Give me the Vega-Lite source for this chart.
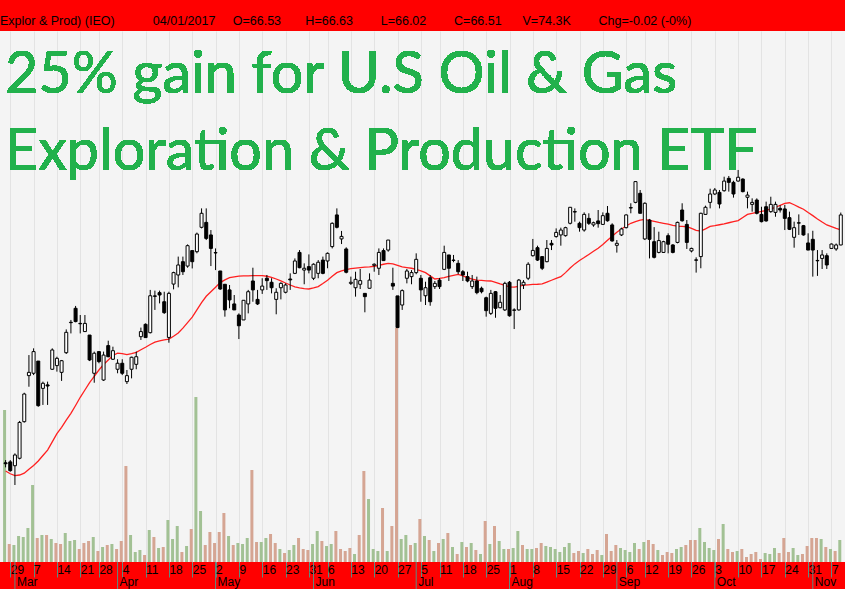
{
  "$schema": "https://vega.github.io/schema/vega-lite/v6.json",
  "width": 845,
  "height": 531,
  "autosize": {"type": "none"},
  "padding": {"left": 0, "right": 0, "top": 31, "bottom": 27},
  "background": "#ff0000",
  "config": {"view": {"fill": "#f4f4f4", "stroke": null}},
  "title": {
    "text": "Explor & Prod) (IEO)\u00a0\u00a0\u00a0\u00a0\u00a0\u00a0\u00a0\u00a0\u00a0\u00a0\u00a004/01/2017\u00a0\u00a0\u00a0\u00a0\u00a0O=66.53\u00a0\u00a0\u00a0\u00a0\u00a0\u00a0\u00a0H=66.63\u00a0\u00a0\u00a0\u00a0\u00a0\u00a0\u00a0\u00a0L=66.02\u00a0\u00a0\u00a0\u00a0\u00a0\u00a0\u00a0\u00a0C=66.51\u00a0\u00a0\u00a0\u00a0\u00a0\u00a0V=74.3K\u00a0\u00a0\u00a0\u00a0\u00a0\u00a0\u00a0\u00a0Chg=-0.02 (-0%)",
    "anchor": "start",
    "frame": "group",
    "orient": "top",
    "offset": -2,
    "baseline": "middle",
    "font": "Liberation Sans",
    "fontSize": 12.5,
    "fontWeight": "normal",
    "color": "#000000"
  },
  "data": {"values": [
    {"i":0,"o":45.45,"h":45.6,"l":45.2,"c":45.4,"v":1520,"dir":"up","ma":45.0},
    {"i":1,"o":45.5,"h":45.6,"l":44.96,"c":45.02,"v":180,"dir":"down","ma":44.85},
    {"i":2,"o":45.29,"h":45.97,"l":44.23,"c":45.88,"v":170,"dir":"up","ma":44.75,"mon":"Mar"},
    {"i":3,"o":45.7,"h":47.75,"l":45.64,"c":47.67,"v":260,"dir":"up","ma":44.78},
    {"i":4,"o":47.71,"h":49.3,"l":47.66,"c":49.23,"v":250,"dir":"up","ma":44.88},
    {"i":5,"o":50.24,"h":51.37,"l":49.63,"c":50.42,"v":340,"dir":"up","ma":45.1},
    {"i":6,"o":50.37,"h":51.74,"l":50.27,"c":51.56,"v":770,"dir":"up","ma":45.3},
    {"i":7,"o":51.04,"h":51.04,"l":48.53,"c":48.59,"v":240,"dir":"down","ma":45.55},
    {"i":8,"o":49.54,"h":49.91,"l":48.63,"c":49.82,"v":270,"dir":"up","ma":45.85},
    {"i":9,"o":49.73,"h":49.91,"l":48.63,"c":49.67,"v":270,"dir":"down","ma":46.15},
    {"i":10,"o":50.59,"h":51.74,"l":50.55,"c":51.65,"v":230,"dir":"up","ma":46.6},
    {"i":11,"o":50.79,"h":51.28,"l":50.46,"c":51.19,"v":190,"dir":"down","ma":47.05},
    {"i":12,"o":50.42,"h":51.1,"l":49.95,"c":51.06,"v":180,"dir":"down","ma":47.4},
    {"i":13,"o":51.5,"h":52.78,"l":51.43,"c":52.62,"v":290,"dir":"up","ma":47.8},
    {"i":14,"o":53.17,"h":53.3,"l":52.56,"c":53.15,"v":210,"dir":"up","ma":48.17},
    {"i":15,"o":53.94,"h":54.07,"l":53.17,"c":53.21,"v":220,"dir":"up","ma":48.6},
    {"i":16,"o":53.11,"h":53.57,"l":52.56,"c":53.09,"v":130,"dir":"down","ma":49.05},
    {"i":17,"o":52.66,"h":53.57,"l":52.66,"c":53.11,"v":190,"dir":"down","ma":49.45},
    {"i":18,"o":52.47,"h":52.47,"l":51.04,"c":51.1,"v":210,"dir":"down","ma":49.85},
    {"i":19,"o":50.37,"h":51.56,"l":49.85,"c":51.47,"v":250,"dir":"up","ma":50.2},
    {"i":20,"o":51.56,"h":51.56,"l":50.92,"c":51.01,"v":110,"dir":"down","ma":50.55},
    {"i":21,"o":50.0,"h":51.56,"l":49.95,"c":51.37,"v":150,"dir":"up","ma":50.85},
    {"i":22,"o":51.89,"h":52.16,"l":51.25,"c":51.28,"v":170,"dir":"down","ma":51.1},
    {"i":23,"o":51.14,"h":51.83,"l":51.1,"c":51.61,"v":180,"dir":"up","ma":51.35},
    {"i":24,"o":50.59,"h":51.14,"l":50.37,"c":50.92,"v":130,"dir":"down","ma":51.48,"mon":"Apr"},
    {"i":25,"o":50.92,"h":51.14,"l":50.27,"c":50.37,"v":210,"dir":"down","ma":51.45},
    {"i":26,"o":49.91,"h":50.55,"l":49.78,"c":50.24,"v":960,"dir":"down","ma":51.4},
    {"i":27,"o":50.59,"h":51.28,"l":50.09,"c":51.25,"v":270,"dir":"up","ma":51.45},
    {"i":28,"o":50.86,"h":51.56,"l":50.59,"c":51.28,"v":100,"dir":"up","ma":51.52},
    {"i":29,"o":52.38,"h":52.88,"l":52.2,"c":52.66,"v":120,"dir":"up","ma":51.66},
    {"i":30,"o":53.06,"h":53.11,"l":52.33,"c":52.33,"v":70,"dir":"down","ma":51.8},
    {"i":31,"o":52.6,"h":54.95,"l":52.56,"c":54.63,"v":320,"dir":"up","ma":51.95},
    {"i":32,"o":54.62,"h":54.91,"l":53.85,"c":54.6,"v":250,"dir":"down","ma":52.08},
    {"i":33,"o":54.8,"h":54.91,"l":54.21,"c":54.67,"v":140,"dir":"up","ma":52.15},
    {"i":34,"o":54.3,"h":54.85,"l":53.63,"c":53.7,"v":150,"dir":"down","ma":52.2},
    {"i":35,"o":52.34,"h":54.85,"l":52.05,"c":54.76,"v":420,"dir":"up","ma":52.25},
    {"i":36,"o":55.27,"h":55.95,"l":54.98,"c":55.9,"v":230,"dir":"up","ma":52.4},
    {"i":37,"o":55.77,"h":56.78,"l":55.09,"c":56.32,"v":360,"dir":"up","ma":52.58},
    {"i":38,"o":56.5,"h":56.78,"l":55.77,"c":55.95,"v":100,"dir":"down","ma":52.85},
    {"i":39,"o":56.26,"h":57.45,"l":56.17,"c":57.38,"v":160,"dir":"up","ma":53.15},
    {"i":40,"o":57.11,"h":57.11,"l":56.13,"c":56.5,"v":330,"dir":"down","ma":53.45},
    {"i":41,"o":57.05,"h":58.1,"l":56.96,"c":58.02,"v":1650,"dir":"up","ma":53.85},
    {"i":42,"o":58.39,"h":59.43,"l":58.33,"c":59.16,"v":510,"dir":"up","ma":54.25},
    {"i":43,"o":58.66,"h":59.43,"l":57.69,"c":57.78,"v":170,"dir":"down","ma":54.6},
    {"i":44,"o":57.97,"h":58.24,"l":56.26,"c":57.23,"v":300,"dir":"down","ma":54.85},
    {"i":45,"o":57.0,"h":57.23,"l":56.04,"c":56.98,"v":190,"dir":"down","ma":55.1,"mon":"May"},
    {"i":46,"o":55.99,"h":55.99,"l":54.95,"c":55.0,"v":300,"dir":"down","ma":55.35},
    {"i":47,"o":55.26,"h":55.26,"l":53.48,"c":53.85,"v":490,"dir":"down","ma":55.5},
    {"i":48,"o":54.95,"h":55.22,"l":53.94,"c":54.4,"v":260,"dir":"up","ma":55.62},
    {"i":49,"o":54.18,"h":54.67,"l":53.85,"c":53.85,"v":170,"dir":"down","ma":55.67},
    {"i":50,"o":53.57,"h":53.66,"l":52.25,"c":52.98,"v":190,"dir":"up","ma":55.71},
    {"i":51,"o":53.3,"h":54.38,"l":53.3,"c":54.38,"v":180,"dir":"up","ma":55.72},
    {"i":52,"o":54.18,"h":54.95,"l":53.66,"c":54.85,"v":240,"dir":"up","ma":55.72},
    {"i":53,"o":55.44,"h":56.17,"l":54.3,"c":54.95,"v":920,"dir":"down","ma":55.73},
    {"i":54,"o":54.43,"h":54.95,"l":54.12,"c":54.18,"v":200,"dir":"down","ma":55.73},
    {"i":55,"o":54.95,"h":55.59,"l":54.73,"c":55.16,"v":200,"dir":"up","ma":55.73},
    {"i":56,"o":55.59,"h":55.77,"l":54.95,"c":55.46,"v":240,"dir":"up","ma":55.7},
    {"i":57,"o":55.37,"h":55.59,"l":54.76,"c":55.07,"v":280,"dir":"down","ma":55.64},
    {"i":58,"o":54.43,"h":55.04,"l":53.61,"c":54.82,"v":190,"dir":"down","ma":55.55},
    {"i":59,"o":55.07,"h":55.37,"l":54.43,"c":55.31,"v":130,"dir":"up","ma":55.45},
    {"i":60,"o":54.82,"h":55.31,"l":54.76,"c":55.22,"v":90,"dir":"down","ma":55.33},
    {"i":61,"o":55.55,"h":55.86,"l":54.95,"c":55.5,"v":120,"dir":"up","ma":55.22},
    {"i":62,"o":55.86,"h":56.68,"l":55.82,"c":56.54,"v":170,"dir":"up","ma":55.12},
    {"i":63,"o":57.01,"h":57.14,"l":56.14,"c":56.17,"v":240,"dir":"down","ma":55.06},
    {"i":64,"o":56.04,"h":56.41,"l":55.26,"c":56.14,"v":130,"dir":"down","ma":55.02},
    {"i":65,"o":56.23,"h":56.9,"l":55.86,"c":56.04,"v":120,"dir":"down","ma":55.0},
    {"i":66,"o":55.59,"h":56.41,"l":55.49,"c":56.36,"v":180,"dir":"up","ma":55.06,"mon":"Jun"},
    {"i":67,"o":55.86,"h":56.59,"l":55.59,"c":56.47,"v":310,"dir":"up","ma":55.13},
    {"i":68,"o":56.59,"h":56.78,"l":55.81,"c":55.86,"v":210,"dir":"down","ma":55.3},
    {"i":69,"o":56.54,"h":57.01,"l":56.14,"c":56.96,"v":160,"dir":"up","ma":55.48},
    {"i":70,"o":57.33,"h":58.66,"l":57.23,"c":58.61,"v":180,"dir":"up","ma":55.7},
    {"i":71,"o":59.07,"h":59.43,"l":58.33,"c":58.39,"v":310,"dir":"down","ma":55.9},
    {"i":72,"o":57.75,"h":58.19,"l":57.47,"c":57.89,"v":130,"dir":"down","ma":56.0},
    {"i":73,"o":57.2,"h":57.29,"l":55.86,"c":55.92,"v":110,"dir":"down","ma":56.07},
    {"i":74,"o":55.31,"h":55.68,"l":55.22,"c":55.37,"v":140,"dir":"down","ma":56.12},
    {"i":75,"o":55.07,"h":55.95,"l":54.58,"c":55.53,"v":80,"dir":"up","ma":56.15},
    {"i":76,"o":55.26,"h":56.1,"l":55.0,"c":55.46,"v":270,"dir":"down","ma":56.18},
    {"i":77,"o":54.76,"h":54.76,"l":53.72,"c":54.58,"v":910,"dir":"down","ma":56.2},
    {"i":78,"o":55.04,"h":55.86,"l":55.04,"c":55.49,"v":630,"dir":"up","ma":56.22},
    {"i":79,"o":56.3,"h":56.41,"l":55.95,"c":56.36,"v":130,"dir":"up","ma":56.25},
    {"i":80,"o":56.14,"h":57.23,"l":55.77,"c":57.01,"v":110,"dir":"up","ma":56.3},
    {"i":81,"o":57.11,"h":57.23,"l":56.54,"c":56.56,"v":540,"dir":"down","ma":56.36},
    {"i":82,"o":57.14,"h":57.69,"l":57.05,"c":57.69,"v":110,"dir":"up","ma":56.41},
    {"i":83,"o":55.31,"h":56.17,"l":54.95,"c":55.16,"v":360,"dir":"down","ma":56.38},
    {"i":84,"o":54.62,"h":54.62,"l":52.88,"c":52.88,"v":2340,"dir":"down","ma":56.3},
    {"i":85,"o":54.12,"h":54.98,"l":53.85,"c":54.91,"v":230,"dir":"up","ma":56.22},
    {"i":86,"o":55.59,"h":56.1,"l":55.31,"c":55.99,"v":270,"dir":"up","ma":56.18},
    {"i":87,"o":55.68,"h":56.04,"l":55.26,"c":55.9,"v":170,"dir":"down","ma":56.14},
    {"i":88,"o":55.9,"h":56.96,"l":55.81,"c":56.63,"v":190,"dir":"up","ma":56.08,"mon":"Jul"},
    {"i":89,"o":55.59,"h":55.77,"l":54.3,"c":54.95,"v":430,"dir":"down","ma":56.0},
    {"i":90,"o":54.63,"h":55.4,"l":54.12,"c":55.07,"v":260,"dir":"up","ma":55.9},
    {"i":91,"o":55.62,"h":55.77,"l":54.08,"c":54.3,"v":220,"dir":"down","ma":55.72},
    {"i":92,"o":55.13,"h":55.44,"l":55.0,"c":55.31,"v":110,"dir":"up","ma":55.55},
    {"i":93,"o":55.49,"h":55.6,"l":55.0,"c":55.13,"v":190,"dir":"down","ma":55.58},
    {"i":94,"o":56.08,"h":57.38,"l":56.04,"c":57.01,"v":230,"dir":"up","ma":55.63},
    {"i":95,"o":56.87,"h":56.87,"l":55.44,"c":56.14,"v":290,"dir":"down","ma":55.7},
    {"i":96,"o":56.59,"h":56.87,"l":56.47,"c":56.57,"v":150,"dir":"up","ma":55.75},
    {"i":97,"o":56.41,"h":56.59,"l":55.81,"c":55.95,"v":80,"dir":"down","ma":55.8},
    {"i":98,"o":55.95,"h":56.04,"l":55.44,"c":55.77,"v":200,"dir":"up","ma":55.72},
    {"i":99,"o":55.68,"h":55.95,"l":55.37,"c":55.44,"v":150,"dir":"down","ma":55.62},
    {"i":100,"o":55.13,"h":55.77,"l":55.0,"c":55.44,"v":190,"dir":"up","ma":55.54},
    {"i":101,"o":55.44,"h":55.68,"l":54.71,"c":54.8,"v":120,"dir":"down","ma":55.49},
    {"i":102,"o":55.04,"h":55.13,"l":54.76,"c":54.85,"v":80,"dir":"up","ma":55.47},
    {"i":103,"o":54.52,"h":54.58,"l":53.48,"c":53.81,"v":410,"dir":"down","ma":55.45},
    {"i":104,"o":53.66,"h":54.95,"l":53.57,"c":54.76,"v":180,"dir":"up","ma":55.44},
    {"i":105,"o":54.85,"h":54.89,"l":53.42,"c":53.94,"v":360,"dir":"down","ma":55.37},
    {"i":106,"o":53.97,"h":54.67,"l":53.94,"c":54.27,"v":210,"dir":"up","ma":55.28},
    {"i":107,"o":53.85,"h":55.4,"l":53.79,"c":55.31,"v":130,"dir":"up","ma":55.2},
    {"i":108,"o":55.37,"h":55.44,"l":53.48,"c":53.53,"v":130,"dir":"down","ma":55.12,"mon":"Aug"},
    {"i":109,"o":53.85,"h":53.94,"l":52.8,"c":53.83,"v":140,"dir":"up","ma":55.1},
    {"i":110,"o":53.85,"h":55.55,"l":53.81,"c":55.49,"v":310,"dir":"up","ma":55.15},
    {"i":111,"o":55.22,"h":55.49,"l":55.0,"c":55.37,"v":170,"dir":"down","ma":55.21},
    {"i":112,"o":55.59,"h":56.47,"l":55.49,"c":56.36,"v":130,"dir":"up","ma":55.23},
    {"i":113,"o":56.83,"h":57.75,"l":56.78,"c":57.12,"v":130,"dir":"up","ma":55.25},
    {"i":114,"o":57.27,"h":57.38,"l":56.54,"c":56.59,"v":140,"dir":"down","ma":55.26},
    {"i":115,"o":56.78,"h":56.78,"l":56.04,"c":56.14,"v":190,"dir":"down","ma":55.28},
    {"i":116,"o":56.5,"h":57.69,"l":56.47,"c":57.23,"v":160,"dir":"up","ma":55.38},
    {"i":117,"o":57.51,"h":57.69,"l":57.14,"c":57.42,"v":150,"dir":"up","ma":55.48},
    {"i":118,"o":57.88,"h":58.33,"l":57.82,"c":58.11,"v":130,"dir":"up","ma":55.58},
    {"i":119,"o":57.97,"h":58.37,"l":57.38,"c":58.24,"v":100,"dir":"up","ma":55.68},
    {"i":120,"o":57.93,"h":58.42,"l":57.88,"c":58.37,"v":150,"dir":"up","ma":55.9},
    {"i":121,"o":58.61,"h":59.49,"l":58.55,"c":59.49,"v":190,"dir":"up","ma":56.15},
    {"i":122,"o":59.25,"h":59.43,"l":58.7,"c":59.23,"v":90,"dir":"down","ma":56.38},
    {"i":123,"o":58.61,"h":58.7,"l":58.15,"c":58.37,"v":110,"dir":"down","ma":56.57},
    {"i":124,"o":58.24,"h":59.21,"l":58.15,"c":59.1,"v":90,"dir":"up","ma":56.73},
    {"i":125,"o":58.88,"h":59.16,"l":58.52,"c":58.61,"v":130,"dir":"down","ma":56.9},
    {"i":126,"o":58.52,"h":58.7,"l":58.42,"c":58.64,"v":80,"dir":"down","ma":57.07},
    {"i":127,"o":58.74,"h":59.34,"l":58.37,"c":58.59,"v":120,"dir":"down","ma":57.24},
    {"i":128,"o":58.55,"h":59.21,"l":58.52,"c":59.03,"v":70,"dir":"up","ma":57.45},
    {"i":129,"o":59.16,"h":59.56,"l":58.7,"c":58.75,"v":280,"dir":"down","ma":57.68},
    {"i":130,"o":58.52,"h":58.61,"l":57.6,"c":57.64,"v":110,"dir":"down","ma":57.9},
    {"i":131,"o":57.4,"h":57.69,"l":57.0,"c":57.51,"v":170,"dir":"down","ma":58.12,"mon":"Sep"},
    {"i":132,"o":57.97,"h":58.37,"l":57.91,"c":58.3,"v":140,"dir":"up","ma":58.3},
    {"i":133,"o":58.37,"h":59.1,"l":58.33,"c":59.07,"v":120,"dir":"up","ma":58.46},
    {"i":134,"o":59.47,"h":59.71,"l":59.16,"c":59.45,"v":100,"dir":"up","ma":58.61},
    {"i":135,"o":59.76,"h":60.93,"l":59.71,"c":60.9,"v":190,"dir":"up","ma":58.7},
    {"i":136,"o":60.26,"h":60.44,"l":59.16,"c":59.16,"v":130,"dir":"down","ma":58.78},
    {"i":137,"o":57.75,"h":59.76,"l":57.69,"c":59.71,"v":200,"dir":"up","ma":58.82},
    {"i":138,"o":58.79,"h":58.85,"l":56.68,"c":57.73,"v":220,"dir":"down","ma":58.77},
    {"i":139,"o":57.6,"h":58.4,"l":56.68,"c":56.74,"v":180,"dir":"down","ma":58.72},
    {"i":140,"o":57.01,"h":58.15,"l":56.96,"c":57.66,"v":120,"dir":"up","ma":58.66},
    {"i":141,"o":57.01,"h":57.65,"l":56.98,"c":57.6,"v":70,"dir":"down","ma":58.61},
    {"i":142,"o":57.93,"h":58.06,"l":56.96,"c":57.46,"v":100,"dir":"down","ma":58.56},
    {"i":143,"o":57.42,"h":57.46,"l":56.96,"c":57.01,"v":90,"dir":"down","ma":58.5},
    {"i":144,"o":57.56,"h":58.7,"l":57.51,"c":58.66,"v":130,"dir":"up","ma":58.45},
    {"i":145,"o":59.34,"h":59.71,"l":58.7,"c":58.75,"v":150,"dir":"up","ma":58.44},
    {"i":146,"o":58.55,"h":58.79,"l":57.2,"c":57.56,"v":170,"dir":"down","ma":58.42},
    {"i":147,"o":57.09,"h":57.27,"l":57.01,"c":57.23,"v":220,"dir":"down","ma":58.33},
    {"i":148,"o":56.6,"h":56.74,"l":55.9,"c":56.58,"v":220,"dir":"down","ma":58.22},
    {"i":149,"o":56.78,"h":59.19,"l":56.14,"c":59.16,"v":340,"dir":"up","ma":58.18},
    {"i":150,"o":59.1,"h":59.58,"l":59.07,"c":59.49,"v":200,"dir":"up","ma":58.3},
    {"i":151,"o":59.76,"h":60.51,"l":59.43,"c":60.22,"v":140,"dir":"up","ma":58.44},
    {"i":152,"o":60.22,"h":60.55,"l":60.16,"c":60.44,"v":120,"dir":"up","ma":58.48,"mon":"Oct"},
    {"i":153,"o":60.31,"h":60.44,"l":59.43,"c":59.67,"v":230,"dir":"down","ma":58.53},
    {"i":154,"o":60.4,"h":61.17,"l":60.35,"c":60.93,"v":380,"dir":"up","ma":58.58},
    {"i":155,"o":61.08,"h":61.21,"l":60.35,"c":60.86,"v":130,"dir":"down","ma":58.64},
    {"i":156,"o":60.86,"h":60.95,"l":60.02,"c":60.22,"v":100,"dir":"down","ma":58.7},
    {"i":157,"o":60.93,"h":61.54,"l":60.9,"c":61.14,"v":110,"dir":"up","ma":58.76},
    {"i":158,"o":61.04,"h":61.08,"l":60.31,"c":60.35,"v":130,"dir":"down","ma":58.93},
    {"i":159,"o":60.04,"h":60.35,"l":59.43,"c":60.16,"v":50,"dir":"down","ma":59.1},
    {"i":160,"o":59.65,"h":59.98,"l":59.25,"c":59.76,"v":80,"dir":"down","ma":59.16},
    {"i":161,"o":59.89,"h":59.98,"l":59.1,"c":59.16,"v":100,"dir":"down","ma":59.21},
    {"i":162,"o":59.1,"h":59.52,"l":58.66,"c":58.7,"v":30,"dir":"down","ma":59.26},
    {"i":163,"o":59.52,"h":59.8,"l":58.7,"c":58.74,"v":90,"dir":"up","ma":59.32},
    {"i":164,"o":59.25,"h":60.07,"l":59.19,"c":59.65,"v":80,"dir":"up","ma":59.4},
    {"i":165,"o":59.21,"h":59.8,"l":58.97,"c":59.65,"v":140,"dir":"up","ma":59.48},
    {"i":166,"o":59.43,"h":59.6,"l":59.2,"c":59.34,"v":90,"dir":"down","ma":59.6},
    {"i":167,"o":59.4,"h":59.62,"l":58.24,"c":58.88,"v":240,"dir":"down","ma":59.7},
    {"i":168,"o":58.92,"h":59.25,"l":58.24,"c":58.28,"v":100,"dir":"down","ma":59.74},
    {"i":169,"o":57.84,"h":58.7,"l":57.27,"c":58.37,"v":140,"dir":"up","ma":59.63},
    {"i":170,"o":58.64,"h":59.1,"l":57.97,"c":58.62,"v":70,"dir":"up","ma":59.5},
    {"i":171,"o":58.48,"h":58.52,"l":57.93,"c":57.97,"v":80,"dir":"down","ma":59.38},
    {"i":172,"o":57.53,"h":58.06,"l":57.14,"c":57.14,"v":160,"dir":"down","ma":59.2},
    {"i":173,"o":57.73,"h":58.2,"l":55.68,"c":57.14,"v":240,"dir":"down","ma":59.03,"mon":"Nov"},
    {"i":174,"o":56.57,"h":57.14,"l":55.72,"c":56.55,"v":240,"dir":"down","ma":58.85},
    {"i":175,"o":56.68,"h":57.14,"l":56.1,"c":56.87,"v":230,"dir":"up","ma":58.68},
    {"i":176,"o":56.83,"h":56.96,"l":56.1,"c":56.32,"v":150,"dir":"down","ma":58.52},
    {"i":177,"o":57.23,"h":57.5,"l":57.2,"c":57.47,"v":130,"dir":"up","ma":58.43},
    {"i":178,"o":57.2,"h":57.5,"l":57.1,"c":57.42,"v":110,"dir":"down","ma":58.33},
    {"i":179,"o":57.42,"h":59.2,"l":57.4,"c":59.07,"v":220,"dir":"up","ma":58.25}
  ]},
  "layer": [
    {
      "mark": {"type": "bar", "size": 3, "xOffset": -1, "clip": true},
      "encoding": {
        "x": {
          "field": "i", "type": "quantitative",
          "scale": {"domain": [-0.127, 178.83], "nice": false, "zero": false},
          "axis": {
            "orient": "bottom",
            "values": [1,6,11,16,20,25,30,35,40,45,50,55,60,65,69,74,79,84,89,93,98,103,108,113,118,123,128,133,137,142,147,152,157,162,167,172,177],
            "labelExpr": "['29','7','14','21','28','4','11','18','25','2','9','16','23','31','6','13','20','27','5','11','18','25','1','8','15','22','29','6','12','19','26','3','10','17','24','31','7'][indexof([1,6,11,16,20,25,30,35,40,45,50,55,60,65,69,74,79,84,89,93,98,103,108,113,118,123,128,133,137,142,147,152,157,162,167,172,177], datum.value)]",
            "grid": true, "gridColor": "#e3e3e3", "gridWidth": 1,
            "domain": false,
            "ticks": true, "tickSize": 15, "tickColor": "#5b8c82", "tickWidth": 1,
            "labelAlign": "left", "labelBaseline": "middle", "labelPadding": -8, "labelDx": 2,
            "labelFont": "Liberation Sans", "labelFontSize": 12, "labelColor": "#000000",
            "labelFlush": false, "labelOverlap": false, "labelBound": false,
            "title": null
          }
        },
        "y": {"field": "v", "type": "quantitative", "scale": {"domain": [0, 5310], "nice": false}, "axis": null},
        "color": {"field": "dir", "type": "nominal", "scale": {"domain": ["up", "down"], "range": ["#a2c194", "#d5a593"]}, "legend": null}
      }
    },
    {
      "layer": [
        {
          "mark": {"type": "line", "color": "#ff2020", "strokeWidth": 1.3, "clip": true},
          "encoding": {
            "x": {"field": "i", "type": "quantitative", "axis": null},
            "y": {
              "field": "ma", "type": "quantitative",
              "scale": {"domain": [40, 69.176], "nice": false, "zero": false},
              "axis": {
                "values": [41,42,43,44,45,46,47,48,49,50,51,52,53,54,55,56,57,58,59,60,61,62,63,64,65,66,67,68,69],
                "grid": true, "gridColor": "#e3e3e3", "gridWidth": 1,
                "labels": false, "ticks": false, "domain": false, "title": null
              }
            }
          }
        },
        {
          "mark": {"type": "rule", "color": "#000000", "strokeWidth": 1, "clip": true},
          "encoding": {
            "x": {"field": "i", "type": "quantitative", "axis": null},
            "y": {"field": "l", "type": "quantitative", "axis": null},
            "y2": {"field": "h"}
          }
        },
        {
          "mark": {"type": "bar", "size": 3, "stroke": "#000000", "strokeWidth": 1, "clip": true},
          "encoding": {
            "x": {"field": "i", "type": "quantitative", "axis": null},
            "y": {"field": "o", "type": "quantitative", "axis": null},
            "y2": {"field": "c"},
            "fill": {"condition": {"test": "datum.c < datum.o", "value": "#000000"}, "value": "#ffffff"}
          }
        },
        {
          "transform": [{"filter": "datum.mon"}],
          "mark": {"type": "rule", "color": "#5b8c82", "strokeWidth": 1, "clip": false},
          "encoding": {
            "x": {"field": "i", "type": "quantitative", "axis": null},
            "y": {"datum": 40, "type": "quantitative", "axis": null},
            "y2": {"datum": 38.5}
          }
        },
        {
          "transform": [{"filter": "datum.mon"}],
          "mark": {"type": "text", "align": "left", "baseline": "alphabetic", "dx": 2, "font": "Liberation Sans", "fontSize": 12, "color": "#000000", "clip": false},
          "encoding": {
            "x": {"field": "i", "type": "quantitative", "axis": null},
            "y": {"datum": 38.66, "type": "quantitative", "axis": null},
            "text": {"field": "mon"}
          }
        },
        {
          "mark": {
            "type": "text",
            "text": ["25% gain for U.S Oil & Gas", "Exploration & Production ETF"],
            "font": "Lato", "fontSize": 57.5, "align": "left", "baseline": "alphabetic",
            "lineHeight": 77, "color": "#22b14c", "clip": true
          },
          "encoding": {
            "x": {"datum": -0.12, "type": "quantitative", "axis": null},
            "y": {"datum": 65.77, "type": "quantitative", "axis": null}
          }
        }
      ]
    }
  ],
  "resolve": {"scale": {"y": "independent"}, "axis": {"x": "independent", "y": "independent"}}
}
